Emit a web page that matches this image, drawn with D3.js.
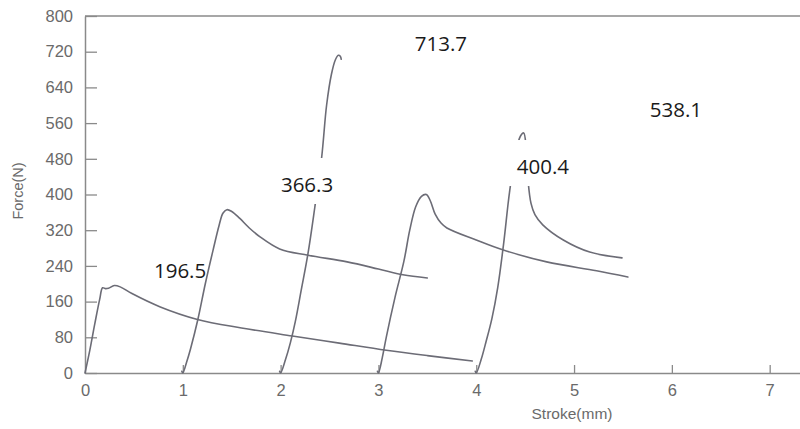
<!DOCTYPE html>
<html><head><meta charset="utf-8">
<script src="https://cdn.jsdelivr.net/npm/d3@7"></script>
<style>
html,body{margin:0;padding:0;background:#fff;}
svg{display:block;}
</style></head>
<body>
<svg id="chart" width="800" height="429"></svg>
<script>
// ---- data (Stroke mm, Force N) ----
const curve196 = [[0,0],[0.05,52],[0.10,110],[0.15,165],[0.18,191],[0.21,189],[0.24,190],[0.30,196],[0.36,193],[0.48,178],[0.77,148],[1.15,120],[1.60,101],[2.12,83],[2.60,67],[3.08,51],[3.50,39],[3.96,27]];
const curve366 = [[0.99,4],[1.0,0],[1.04,25],[1.08,55],[1.155,121],[1.23,200],[1.31,276],[1.37,330],[1.41,358],[1.45,366],[1.50,362],[1.58,347],[1.68,325],[1.79,305],[1.99,278],[2.28,264],[2.68,249],[3.00,233],[3.25,220],[3.50,213]];
const curve713 = [[1.99,4],[2.0,0],[2.05,30],[2.10,68],[2.15,115],[2.21,185],[2.28,268],[2.35,372],[2.42,484],[2.47,600],[2.52,670],[2.56,702],[2.59,712],[2.61,710],[2.62,703]];
const curve400 = [[2.99,4],[3.0,0],[3.04,35],[3.08,80],[3.17,170],[3.26,250],[3.32,320],[3.38,372],[3.44,396],[3.49,400],[3.53,386],[3.58,356],[3.64,336],[3.70,325],[4.0,298],[4.27,276],[4.72,249],[5.23,229],[5.55,215]];
const curve538 = [[3.99,4],[4.0,0],[4.05,30],[4.10,70],[4.16,122],[4.22,192],[4.28,290],[4.34,405],[4.40,490],[4.45,530],[4.485,538],[4.51,505],[4.53,430],[4.56,380],[4.60,355],[4.68,332],[4.89,298],[5.16,271],[5.49,258]];
const curves = [curve196, curve366, curve713, curve400, curve538];

const peakLabels = ["196.5","366.3","713.7","400.4","538.1"];
const labelStroke = [0.705, 2.003, 3.372, 4.414, 5.774];   // label anchor, mm
const labelForce  = [212.9, 405.6, 721.6, 445.9, 573.7];   // label baseline, N
const labelBoxed  = [false, true, false, true, false];

const xTicks = [0,1,2,3,4,5,6,7];
const yTicks = [0,80,160,240,320,400,480,560,640,720,800];
const xTitle = "Stroke(mm)";
const yTitle = "Force(N)";

// ---- layout ----
const svg = d3.select("#chart");
const x = d3.scaleLinear().domain([0, 7.31]).range([85, 800]);
const y = d3.scaleLinear().domain([0, 800]).range([373, 16]);
const axisColor = "#8a8a8a";
const textColor = "#6a6a6a";
const curveColor = "#6c6c76";
const sans = "Liberation Sans, Arial, sans-serif";

// top frame line
svg.append("line").attr("x1", x(0)).attr("x2", x.range()[1])
  .attr("y1", y(800)).attr("y2", y(800))
  .attr("stroke", axisColor).attr("stroke-width", 1.5);

const yAxis = svg.append("g").attr("transform", `translate(${x(0)},0)`)
  .call(d3.axisLeft(y).tickValues(yTicks).tickSizeInner(-12).tickSizeOuter(0).tickPadding(12));
const xAxis = svg.append("g").attr("transform", `translate(0,${y(0)})`)
  .call(d3.axisBottom(x).tickValues(xTicks).tickSizeInner(-8).tickSizeOuter(0).tickPadding(11));

[yAxis, xAxis].forEach(g => {
  g.attr("font-family", sans).attr("font-size", 16.5);
  g.select(".domain").attr("stroke", axisColor).attr("stroke-width", 1.5);
  g.selectAll(".tick line").attr("stroke", axisColor).attr("stroke-width", 1.3);
  g.selectAll(".tick text").attr("fill", textColor);
});
xAxis.selectAll(".tick").filter(d => d === 0).select("line").remove();

// axis titles
svg.append("text").attr("x", 572).attr("y", 419).attr("text-anchor", "middle")
  .attr("fill", textColor).attr("font-family", sans).attr("font-size", 15.5).text(xTitle);
svg.append("text").attr("transform", "translate(23,191) rotate(-90)").attr("text-anchor", "middle")
  .attr("fill", textColor).attr("font-family", sans).attr("font-size", 14.5).text(yTitle);

// curves
const line = d3.line().x(d => x(d[0])).y(d => y(d[1])).curve(d3.curveCatmullRom.alpha(0.5));
svg.append("g").selectAll("path").data(curves).join("path")
  .attr("d", line).attr("fill", "none").attr("stroke", curveColor)
  .attr("stroke-width", 1.6).attr("stroke-linejoin", "round").attr("stroke-linecap", "round");

// peak labels
const lg = svg.append("g");
peakLabels.forEach((t, i) => {
  const g = lg.append("g");
  const rect = g.append("rect").attr("fill", "#fff");
  const txt = g.append("text").attr("x", x(labelStroke[i])).attr("y", y(labelForce[i]))
    .attr("fill", "#1a1a1a").attr("font-family", "Open Sans, sans-serif")
    .attr("font-size", 20.5).text(t);
  if (labelBoxed[i]) {
    const b = txt.node().getBBox();
    rect.attr("x", b.x - 20).attr("y", b.y - 12).attr("width", b.width + 56).attr("height", b.height + 18);
  } else rect.remove();
});
</script>
</body></html>
